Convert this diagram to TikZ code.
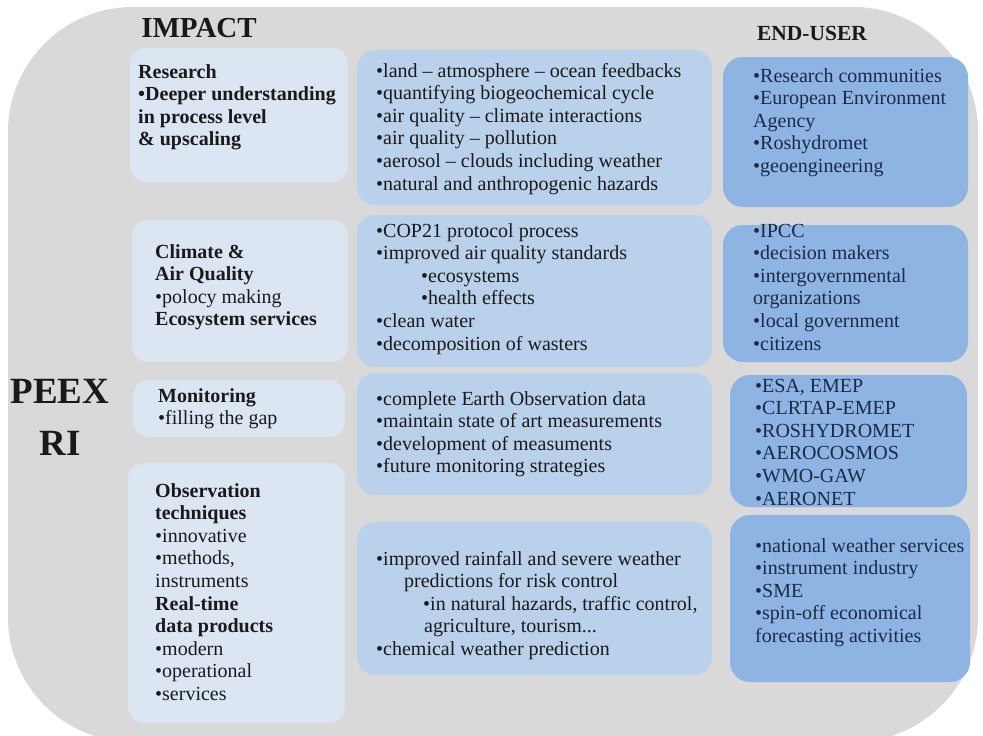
\documentclass[tikz,border=0pt]{standalone}
\usepackage{fontspec}
\setmainfont{Liberation Serif}
\usetikzlibrary{fit}
\definecolor{bggray}{HTML}{D9D9D9}
\definecolor{lblue}{HTML}{DCE6F2}
\definecolor{mblue}{HTML}{B9D1EA}
\definecolor{dblue}{HTML}{8EB4E3}
\definecolor{txtc}{HTML}{1A1A1A}
\definecolor{navy}{HTML}{1B2A47}
\newcommand{\myrows}[1]{\begin{tabular}[t]{@{}l@{}}#1\end{tabular}}
\begin{document}
\begin{tikzpicture}[x=1pt,y=-1pt,
  box/.style={inner sep=0pt, outer sep=0pt, draw=none},
  lbox/.style={box, fill=lblue, rounded corners=16pt},
  mbox/.style={box, fill=mblue, rounded corners=18pt},
  rbox/.style={box, fill=dblue, rounded corners=20pt},
  txt/.style={inner sep=0pt, anchor=base west, text=txtc, font=\fontsize{20}{22.6}\selectfont},
  rtxt/.style={txt, text=navy},
  head/.style={inner sep=0pt, anchor=base, text=black!90, font=\bfseries\fontsize{29}{32}\selectfont}]
\clip (0,0) rectangle (983,736);
\fill[white] (0,0) rectangle (983,736);
\fill[bggray, rounded corners=125pt] (8,7) rectangle (978,742);

% headings
\node[head] (imp) at (199,37) {IMPACT};
\node[head, font=\bfseries\fontsize{21.5}{24}\selectfont] (end) at (812,40) {END-USER};
\node[head, font=\bfseries\fontsize{37}{52}\selectfont] (peex) at (60,403) {PEEX};
\node[head, font=\bfseries\fontsize{37}{52}\selectfont] (ri) at (60,455) {RI};

% left boxes
\node[lbox, fit={(130,48) (348,182)}] (res) {};
\node[lbox, fit={(132,220) (348,362)}] (clim) {};
\node[lbox, fit={(133,380) (345,437)}] (mon) {};
\node[lbox, fit={(128,463) (345,612)}] (obs) {};
\node[lbox, fit={(128,586) (345,723)}] (rt) {};

% middle boxes
\node[mbox, fit={(357,50) (712,205)}] (m1) {};
\node[mbox, fit={(357,215) (712,367)}] (m2) {};
\node[mbox, fit={(357,373) (712,495)}] (m3) {};
\node[mbox, fit={(357,522) (712,675)}] (m4) {};

% right boxes
\node[rbox, fit={(723,57) (968,207)}] (r1) {};
\node[rbox, fit={(723,225) (968,362)}] (r2) {};
\node[rbox, fit={(730,375) (967,507)}] (r3) {};
\node[rbox, fit={(730,515) (970,682)}] (r4) {};

% left texts
\node[txt] (restxt) at (138,78) {\myrows{\textbf{Research}\\ \textbf{•Deeper understanding}\\ \textbf{in process level}\\ \textbf{\& upscaling}}};
\node[txt] (climtxt) at (155,258) {\myrows{\textbf{Climate \&}\\ \textbf{Air Quality}\\ •polocy making\\ \textbf{Ecosystem services}}};
\node[txt] (montxt) at (158,402) {\myrows{\textbf{Monitoring}\\ •filling the gap}};
\node[txt] (obstxt) at (155,497) {\myrows{\textbf{Observation}\\ \textbf{techniques}\\ •innovative\\ •methods,\\ instruments\\ \textbf{Real-time}\\ \textbf{data products}\\ •modern\\ •operational\\ •services}};

% middle texts
\node[txt] (m1txt) at (376,77) {\myrows{•land -- atmosphere -- ocean feedbacks\\ •quantifying biogeochemical cycle\\ •air quality -- climate interactions\\ •air quality -- pollution\\ •aerosol -- clouds including weather\\ •natural and anthropogenic hazards}};
\node[txt] (m2txt) at (376,237) {\myrows{•COP21 protocol process\\ •improved air quality standards\\ \hspace*{45pt}•ecosystems\\ \hspace*{45pt}•health effects\\ •clean water\\ •decomposition of wasters}};
\node[txt] (m3txt) at (376,405) {\myrows{•complete Earth Observation data\\ •maintain state of art measurements\\ •development of measuments\\ •future monitoring strategies}};
\node[txt] (m4txt) at (376,565) {\myrows{•improved rainfall and severe weather\\ \hspace*{28pt}predictions for risk control\\ \hspace*{47pt}•in natural hazards, traffic control,\\ \hspace*{48pt}agriculture, tourism...\\ •chemical weather prediction}};

% right texts
\node[rtxt] (r1txt) at (753,82) {\myrows{•Research communities\\ •European Environment\\ Agency\\ •Roshydromet\\ •geoengineering}};
\node[rtxt] (r2txt) at (753,237) {\myrows{•IPCC\\ •decision makers\\ •intergovernmental\\ organizations\\ •local government\\ •citizens}};
\node[rtxt] (r3txt) at (755,392) {\myrows{•ESA, EMEP\\ •CLRTAP-EMEP\\ •ROSHYDROMET\\ •AEROCOSMOS\\ •WMO-GAW\\ •AERONET}};
\node[rtxt] (r4txt) at (755,552) {\myrows{•national weather services\\ •instrument industry\\ •SME\\ •spin-off economical\\ forecasting activities}};
\end{tikzpicture}
\end{document}
